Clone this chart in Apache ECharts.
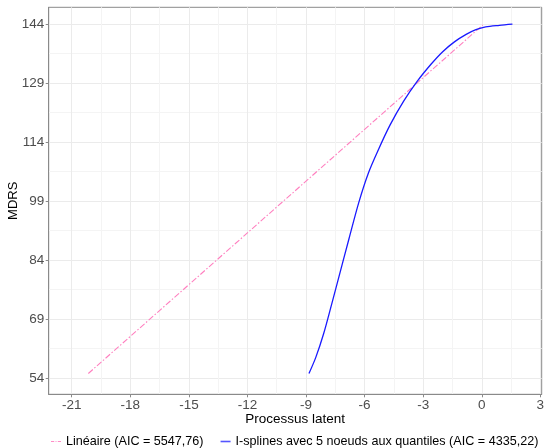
<!DOCTYPE html>
<html>
<head>
<meta charset="utf-8">
<script src="https://cdn.jsdelivr.net/npm/echarts@6/dist/echarts.min.js"></script>
<style>html,body{margin:0;padding:0;background:#fff}#c{width:545px;height:448px}</style>
</head>
<body>
<div id="c"></div>
<script>
// Data
const xTicks = [-21, -18, -15, -12, -9, -6, -3, 0, 3];
const xMinor = [-19.5, -16.5, -13.5, -10.5, -7.5, -4.5, -1.5, 1.5];
const yTicks = [54, 69, 84, 99, 114, 129, 144];
const yMinor = [61.5, 76.5, 91.5, 106.5, 121.5, 136.5];

const linearX = [-20.15, 0.05];
const linearY = [55.1, 143.8];

const splineX = [-8.85, -8.5, -8.1, -7.7, -7.3, -6.8, -6.3, -5.8, -5.3, -4.7, -4.0, -3.3, -2.6, -2.0, -1.4, -0.8, -0.3, 0.2, 0.9, 1.57];
const splineY = [55.1, 59.2, 65.2, 72.5, 80.0, 89.4, 98.6, 106.2, 112.0, 118.3, 124.4, 129.5, 133.8, 137.0, 139.5, 141.4, 142.6, 143.3, 143.7, 144.0];

const seriesNames = ['Linéaire (AIC = 5547,76)', 'I-splines avec 5 noeuds aux quantiles (AIC = 4335,22)'];

const pair = (xs, ys) => xs.map((x, i) => [x, ys[i]]);
const FONT = 'Liberation Sans, Arial, sans-serif';
const gridColor = '#ebebeb';
const minorColor = '#f4f4f4';
const axisGray = '#8a8a8a';
const pink = '#ff7fbf';
const blue = '#1a1aff';

const chart = echarts.init(document.getElementById('c'), null, {renderer: 'canvas'});
const X_MIN = -22.18, X_MAX = 3.07, Y_MIN = 49.8, Y_MAX = 148.3;

chart.setOption({
  animation: false,
  backgroundColor: '#fff',
  grid: {left: 48.7, right: 3.3, top: 7.3, bottom: 53.7, show: true, borderColor: axisGray, borderWidth: 1,
    backgroundColor: 'transparent', containLabel: false, outerBoundsMode: 'none'},
  xAxis: [
    {
      type: 'value', min: X_MIN, max: X_MAX, position: 'bottom',
      name: 'Processus latent', nameLocation: 'middle', nameGap: 18, nameMoveOverlap: false,
      nameTextStyle: {fontFamily: FONT, fontSize: 13.5, color: '#000'},
      axisLine: {show: true, onZero: false, lineStyle: {color: axisGray, width: 1}},
      axisTick: {show: true, length: 3, customValues: xTicks, lineStyle: {color: axisGray}},
      axisLabel: {customValues: xTicks, fontFamily: FONT, fontSize: 13.5, color: '#4d4d4d', margin: 4,
        formatter: v => String(v)},
      splitLine: {show: true, lineStyle: {color: gridColor, width: 1}}
    },
    {
      type: 'value', min: X_MIN, max: X_MAX, position: 'bottom', show: true,
      axisLine: {show: false}, axisTick: {show: false, customValues: xMinor},
      axisLabel: {show: false, customValues: xMinor},
      splitLine: {show: true, lineStyle: {color: minorColor, width: 1}}
    }
  ],
  yAxis: [
    {
      type: 'value', min: Y_MIN, max: Y_MAX,
      name: 'MDRS', nameLocation: 'middle', nameGap: 29, nameRotate: 90, nameMoveOverlap: false,
      nameTextStyle: {fontFamily: FONT, fontSize: 13, color: '#000'},
      axisLine: {show: true, onZero: false, lineStyle: {color: axisGray, width: 1}},
      axisTick: {show: true, length: 3, customValues: yTicks, lineStyle: {color: axisGray}},
      axisLabel: {customValues: yTicks, fontFamily: FONT, fontSize: 13.5, color: '#4d4d4d', margin: 4.5},
      splitLine: {show: true, lineStyle: {color: gridColor, width: 1}}
    },
    {
      type: 'value', min: Y_MIN, max: Y_MAX, position: 'left', show: true,
      axisLine: {show: false}, axisTick: {show: false, customValues: yMinor},
      axisLabel: {show: false, customValues: yMinor},
      splitLine: {show: true, lineStyle: {color: minorColor, width: 1}}
    }
  ],
  legend: {
    top: 434, left: 51, width: 540, padding: 0,
    itemWidth: 10, itemHeight: 1.6, itemGap: 17,
    textStyle: {fontFamily: FONT, fontSize: 12.6, color: '#000', lineHeight: 15},
    data: [
      {name: seriesNames[0], icon: 'path://M0,0h3.5v1h-3.5z M5,0h1v1h-1z M7.5,0h3.5v1h-3.5z', itemStyle: {color: '#ff8cc6'}},
      {name: seriesNames[1], icon: 'rect', itemStyle: {color: '#5555ff'}}
    ]
  },
  series: [
    {
      name: seriesNames[0], type: 'line', xAxisIndex: 0, yAxisIndex: 0,
      data: pair(linearX, linearY), showSymbol: false, symbol: 'none',
      lineStyle: {color: pink, width: 1.1, type: [6, 2, 1.5, 2]},
      itemStyle: {color: pink}, z: 3
    },
    {
      name: seriesNames[1], type: 'line', xAxisIndex: 0, yAxisIndex: 0,
      data: pair(splineX, splineY), showSymbol: false, symbol: 'none', smooth: 0.3,
      lineStyle: {color: blue, width: 1.3},
      itemStyle: {color: blue}, z: 4
    }
  ]
});
</script>
</body>
</html>
